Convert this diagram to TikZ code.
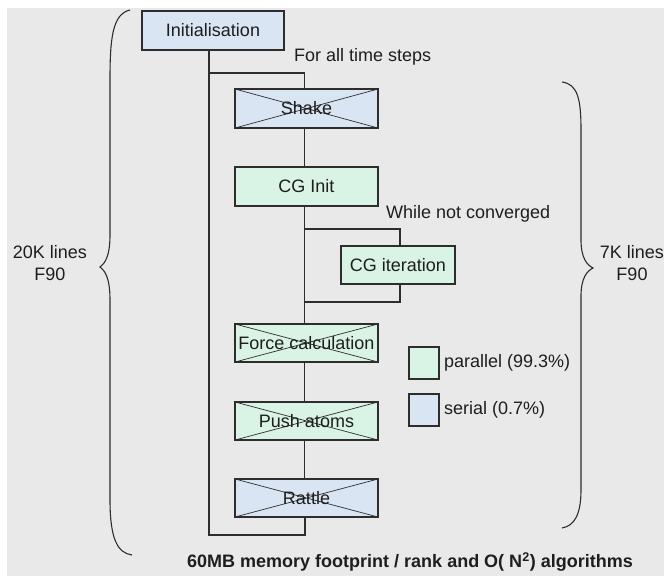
\documentclass[tikz,border=0pt]{standalone}
\usepackage{fontspec}
\setmainfont{Liberation Sans}
\definecolor{bgc}{RGB}{233,233,233}
\definecolor{greenc}{RGB}{217,243,228}
\definecolor{bluec}{RGB}{218,229,243}
\definecolor{linec}{RGB}{45,45,45}
\definecolor{textc}{RGB}{30,30,30}
\newcommand{\fs}{\fontsize{18}{22}\selectfont}
\begin{document}
\begin{tikzpicture}[x=1pt,y=-1pt,
  box/.style={draw=linec, line width=1.2pt, minimum width=143pt, minimum height=39pt, inner sep=0pt, font=\fs, text=textc},
  parbox/.style={box, fill=greenc},
  serbox/.style={box, fill=bluec},
  crossed/.style={path picture={\draw[linec, line width=0.7pt]
      (path picture bounding box.north west) -- (path picture bounding box.south east)
      (path picture bounding box.south west) -- (path picture bounding box.north east);}},
  conn/.style={draw=linec, line width=1.2pt},
  brace/.style={draw=linec, line width=1.1pt},
  lbl/.style={font=\fs, text=textc, inner sep=0pt},
  legsq/.style={draw=linec, line width=1.2pt, minimum width=30pt, minimum height=32pt, inner sep=0pt}]
\useasboundingbox (0,0) rectangle (664,576);
\fill[bgc] (7,8) rectangle (664,576);

% boxes
\node[serbox, minimum width=142pt] (init) at (213,30.5) {Initialisation};
\node[serbox, crossed] (shake) at (306.5,108.5) {Shake};
\node[parbox] (cginit) at (306.5,186.5) {CG Init};
\node[parbox, minimum width=114pt, minimum height=38pt] (cgit) at (398,265) {CG iteration};
\node[parbox, crossed, minimum height=38pt] (force) at (306.5,343) {Force calculation};
\node[parbox, crossed, minimum height=38pt] (push) at (306.5,421) {Push atoms};
\node[serbox, crossed, minimum height=38pt] (rattle) at (306.5,498) {Rattle};

% loop coordinates
\coordinate (ltop) at (209,73);
\coordinate (lbot) at (209,535);
\coordinate (itop) at (305,229);
\coordinate (ibot) at (305,302);

% connectors
\draw[conn] ([xshift=-4pt]init.south) -- (lbot) -| ([xshift=-1.5pt]rattle.south);
\draw[conn] (ltop) -| ([xshift=-2pt]shake.north);
\draw[conn] ([xshift=-2pt]shake.south) -- ([xshift=-2pt]cginit.north);
\draw[conn] ([xshift=-2pt]cginit.south) -- ([xshift=-2pt]force.north);
\draw[conn] (itop) -| ([xshift=2pt]cgit.north);
\draw[conn] ([xshift=2pt]cgit.south) |- (ibot);
\draw[conn] ([xshift=-2pt]force.south) -- ([xshift=-2pt]push.north);
\draw[conn] ([xshift=-2pt]push.south) -- ([xshift=-2pt]rattle.north);

% loop labels
\node[lbl, anchor=west] (fats) at (294,57) {For all time steps};
\node[lbl, anchor=west] (wnc) at (386,214) {While not converged};

% legend
\node[legsq, fill=greenc] (lgp) at (424,363) {};
\node[lbl, anchor=west] (lgpt) at (444,363) {parallel (99.3\%)};
\node[legsq, fill=bluec] (lgs) at (424,410) {};
\node[lbl, anchor=west] (lgst) at (444,410) {serial (0.7\%)};

% braces
\draw[brace] (130,10) .. controls (112,14) and (110,40) .. (110,80) -- (110,235)
  .. controls (110,258) and (104,264) .. (100,267)
  .. controls (104,270) and (110,276) .. (110,300) -- (110,500)
  .. controls (110,540) and (118,553) .. (132,555);
\draw[brace] (562,82) .. controls (578,84) and (581,100) .. (581,130) -- (581,240)
  .. controls (581,258) and (587,265) .. (593,268)
  .. controls (587,271) and (581,278) .. (581,296) -- (581,490)
  .. controls (581,515) and (574,526) .. (562,528);

\node[lbl, align=center] (left) at (50,263) {20K lines\\F90};
\node[lbl, align=center] (right) at (632,263) {7K lines\\F90};

% bottom caption
\node[lbl, font=\fs\bfseries] (cap) at (410,562) {60MB memory footprint / rank and O( N\textsuperscript{2}) algorithms};
\end{tikzpicture}
\end{document}
